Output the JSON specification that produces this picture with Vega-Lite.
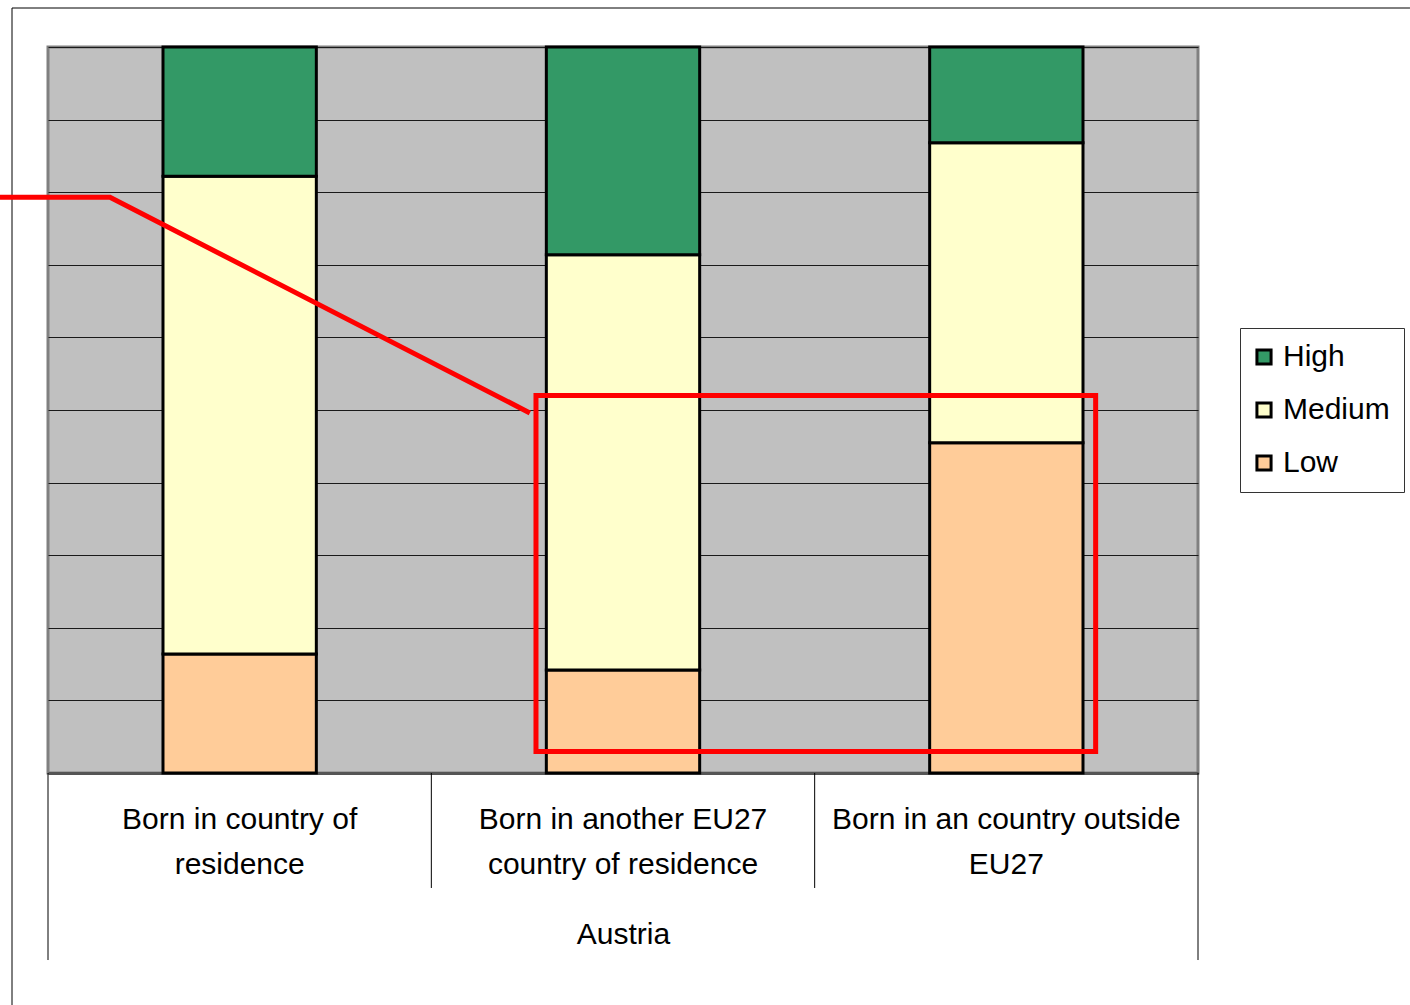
{
  "$schema": "https://vega.github.io/schema/vega-lite/v6.json",
  "width": 1150,
  "height": 726,
  "autosize": {"type": "none"},
  "padding": {"left": 48, "top": 47, "right": 212, "bottom": 232},
  "background": "white",
  "config": {
    "font": "Liberation Sans",
    "view": {"fill": "#C0C0C0", "stroke": "#808080", "strokeWidth": 3}
  },
  "datasets": {
    "shares": [
      {"origin": "Born in country of residence", "level": "Low", "share": 16.4},
      {"origin": "Born in country of residence", "level": "Medium", "share": 65.8},
      {"origin": "Born in country of residence", "level": "High", "share": 17.8},
      {"origin": "Born in another EU27 country of residence", "level": "Low", "share": 14.2},
      {"origin": "Born in another EU27 country of residence", "level": "Medium", "share": 57.2},
      {"origin": "Born in another EU27 country of residence", "level": "High", "share": 28.6},
      {"origin": "Born in an country outside EU27", "level": "Low", "share": 45.5},
      {"origin": "Born in an country outside EU27", "level": "Medium", "share": 41.3},
      {"origin": "Born in an country outside EU27", "level": "High", "share": 13.2}
    ],
    "lines": [
      {"x": 0, "x2": 0, "y": 0, "y2": -25.76},
      {"x": 1, "x2": 1, "y": 0, "y2": -15.84},
      {"x": 2, "x2": 2, "y": 0, "y2": -15.84},
      {"x": 3, "x2": 3, "y": 0, "y2": -25.76},
      {"x": -0.0939, "x2": -0.0939, "y": -31.96, "y2": 105.37},
      {"x": -0.0939, "x2": 3.553, "y": 105.37, "y2": 105.37}
    ],
    "pointer": [
      {"x": -0.1252, "y": 79.3},
      {"x": 0.1617, "y": 79.3},
      {"x": 1.257, "y": 49.6}
    ],
    "box": [
      {"x": 1.273, "x2": 2.733, "y": 2.96, "y2": 52.0}
    ]
  },
  "layer": [
    {
      "data": {"name": "shares"},
      "transform": [
        {"calculate": "indexof(['Low','Medium','High'], datum.level)", "as": "rank"}
      ],
      "mark": {"type": "bar", "stroke": "black", "strokeWidth": 3},
      "encoding": {
        "x": {
          "field": "origin",
          "type": "nominal",
          "sort": ["Born in country of residence", "Born in another EU27 country of residence", "Born in an country outside EU27"],
          "scale": {"paddingInner": 0.6, "paddingOuter": 0.3},
          "axis": {
            "title": "Austria",
            "titleFontSize": 30,
            "titleFontWeight": "normal",
            "titleColor": "black",
            "titlePadding": 40,
            "labelAngle": 0,
            "labelFontSize": 30,
            "labelColor": "black",
            "labelLineHeight": 45,
            "labelPadding": 31,
            "labelLimit": 0,
            "ticks": false,
            "domain": true,
            "domainColor": "#555555",
            "domainWidth": 3,
            "grid": false,
            "labelExpr": "datum.label == 'Born in country of residence' ? ['Born in country of', 'residence'] : datum.label == 'Born in another EU27 country of residence' ? ['Born in another EU27', 'country of residence'] : ['Born in an country outside', 'EU27']"
          }
        },
        "y": {
          "field": "share",
          "type": "quantitative",
          "stack": "zero",
          "scale": {"domain": [0, 100], "nice": false},
          "axis": {
            "title": null,
            "labels": false,
            "ticks": false,
            "domain": false,
            "grid": true,
            "values": [0, 10, 20, 30, 40, 50, 60, 70, 80, 90, 100],
            "gridColor": "#1a1a1a",
            "gridWidth": 1
          }
        },
        "color": {
          "field": "level",
          "type": "nominal",
          "scale": {"domain": ["High", "Medium", "Low"], "range": ["#339966", "#FFFFCC", "#FFCC99"]},
          "legend": {
            "title": null,
            "orient": "none",
            "legendX": 1192,
            "legendY": 281,
            "fillColor": "white",
            "strokeColor": "#333333",
            "padding": 14,
            "symbolType": "square",
            "symbolSize": 200,
            "symbolOffset": -5,
            "symbolStrokeColor": "black",
            "symbolStrokeWidth": 3,
            "symbolOpacity": 1,
            "labelFontSize": 30,
            "labelColor": "black",
            "labelOffset": 4,
            "rowPadding": 23
          }
        },
        "order": {"field": "rank", "type": "quantitative"}
      }
    },
    {
      "data": {"name": "lines"},
      "mark": {"type": "rule", "color": "black", "strokeWidth": 1},
      "encoding": {
        "x": {"field": "x", "type": "quantitative", "scale": {"domain": [0, 3], "nice": false, "zero": false}, "axis": null},
        "x2": {"field": "x2"},
        "y": {"field": "y", "type": "quantitative", "scale": {"domain": [0, 100], "nice": false}},
        "y2": {"field": "y2"}
      }
    },
    {
      "data": {"name": "pointer"},
      "mark": {"type": "line", "color": "#FF0000", "strokeWidth": 5},
      "encoding": {
        "x": {"field": "x", "type": "quantitative", "scale": {"domain": [0, 3], "nice": false, "zero": false}, "axis": null},
        "y": {"field": "y", "type": "quantitative", "scale": {"domain": [0, 100], "nice": false}}
      }
    },
    {
      "data": {"name": "box"},
      "mark": {"type": "rect", "fill": null, "fillOpacity": 0, "stroke": "#FF0000", "strokeWidth": 5},
      "encoding": {
        "x": {"field": "x", "type": "quantitative", "scale": {"domain": [0, 3], "nice": false, "zero": false}, "axis": null},
        "x2": {"field": "x2"},
        "y": {"field": "y", "type": "quantitative", "scale": {"domain": [0, 100], "nice": false}},
        "y2": {"field": "y2"}
      }
    }
  ],
  "resolve": {"scale": {"x": "independent"}, "axis": {"x": "independent"}}
}
